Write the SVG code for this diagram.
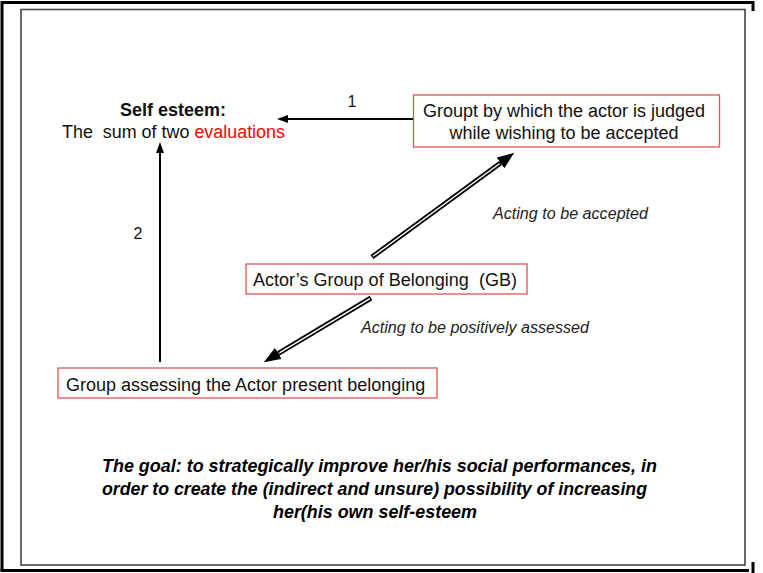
<svg xmlns="http://www.w3.org/2000/svg" width="763" height="573" viewBox="0 0 763 573">
<style>
text{white-space:pre}
.t{font-family:"Liberation Sans",Arial,sans-serif;font-size:18px;fill:#111}
.b{font-weight:bold}
.lab{font-family:"Liberation Sans",Arial,sans-serif;font-size:16px;font-style:italic;fill:#222}
.goal{font-family:"Liberation Sans",Arial,sans-serif;font-size:18px;font-style:italic;font-weight:bold;fill:#000}
.box{fill:#fff;stroke:#e05555;stroke-width:1.3}
.thin{stroke:#000;stroke-width:2;fill:none}
.dbl{stroke:#000;stroke-width:5;fill:none}
.dblin{stroke:#fff;stroke-width:1.4;fill:none}
</style>
<defs>
<marker id="ah" markerUnits="userSpaceOnUse" markerWidth="12" markerHeight="10" refX="1" refY="4" orient="auto">
<path d="M0,0 L11,4 L0,8 z" fill="#000"/>
</marker>
<marker id="bh" markerUnits="userSpaceOnUse" markerWidth="18" markerHeight="14" refX="0" refY="6.5" orient="auto">
<path d="M0,0 L17,6.5 L0,13 z" fill="#000"/>
</marker>
</defs>
<rect width="763" height="573" fill="#fff"/>
<g id="frame">
<path d="M2,571 L2,2.5 L753,2.5 L753,11" fill="none" stroke="#000" stroke-width="3"/>
<path d="M0.5,570.5 L749,570.5 M753,562 L753,573" fill="none" stroke="#000" stroke-width="3"/>
<rect x="21" y="9.5" width="724" height="555.5" fill="#fff" stroke="#444" stroke-width="1.6"/>
</g>
<g id="connectors">
<line class="thin" x1="413" y1="119" x2="287" y2="119" marker-end="url(#ah)"/>
<line class="thin" x1="160" y1="362" x2="160" y2="152" marker-end="url(#ah)"/>
<line class="dbl" x1="372" y1="257" x2="500.5" y2="162.9" marker-end="url(#bh)"/>
<line class="dblin" x1="373" y1="256.3" x2="499.5" y2="163.7"/>
<line class="dbl" x1="371" y1="298" x2="278.4" y2="353.4" marker-end="url(#bh)"/>
<line class="dblin" x1="370" y1="298.6" x2="279.4" y2="352.8"/>
<text class="t" x="352" y="107" text-anchor="middle" style="font-size:16px">1</text>
<text class="t" x="138" y="239" text-anchor="middle" style="font-size:16px">2</text>
<text class="lab" x="493" y="219" textLength="155" lengthAdjust="spacingAndGlyphs">Acting to be accepted</text>
<text class="lab" x="361" y="333" textLength="228" lengthAdjust="spacingAndGlyphs">Acting to be positively assessed</text>
</g>
<g id="self-esteem">
<text class="t b" x="173" y="116" text-anchor="middle">Self esteem:</text>
<text class="t" x="62" y="138" textLength="223" lengthAdjust="spacingAndGlyphs">The  sum of two <tspan fill="#ff0000">evaluations</tspan></text>
</g>
<g id="judging-group">
<rect class="box" x="413.5" y="95" width="306" height="52"/>
<text class="t" x="564" y="117" text-anchor="middle">Groupt by which the actor is judged</text>
<text class="t" x="564" y="139" text-anchor="middle">while wishing to be accepted</text>
</g>
<g id="belonging-group">
<rect class="box" x="246" y="264" width="281" height="30"/>
<text class="t" x="253" y="286" textLength="264" lengthAdjust="spacingAndGlyphs">Actor’s Group of Belonging  (GB)</text>
</g>
<g id="assessing-group">
<rect class="box" x="58" y="368" width="379" height="30"/>
<text class="t" x="66" y="391">Group assessing the Actor present belonging</text>
</g>
<g id="goal">
<text class="goal" x="102" y="472" textLength="555" lengthAdjust="spacingAndGlyphs">The goal: to strategically improve her/his social performances, in</text>
<text class="goal" x="102" y="495" textLength="545" lengthAdjust="spacingAndGlyphs">order to create the (indirect and unsure) possibility of increasing</text>
<text class="goal" x="273" y="518" textLength="204" lengthAdjust="spacingAndGlyphs">her(his own self-esteem</text>
</g>
</svg>
